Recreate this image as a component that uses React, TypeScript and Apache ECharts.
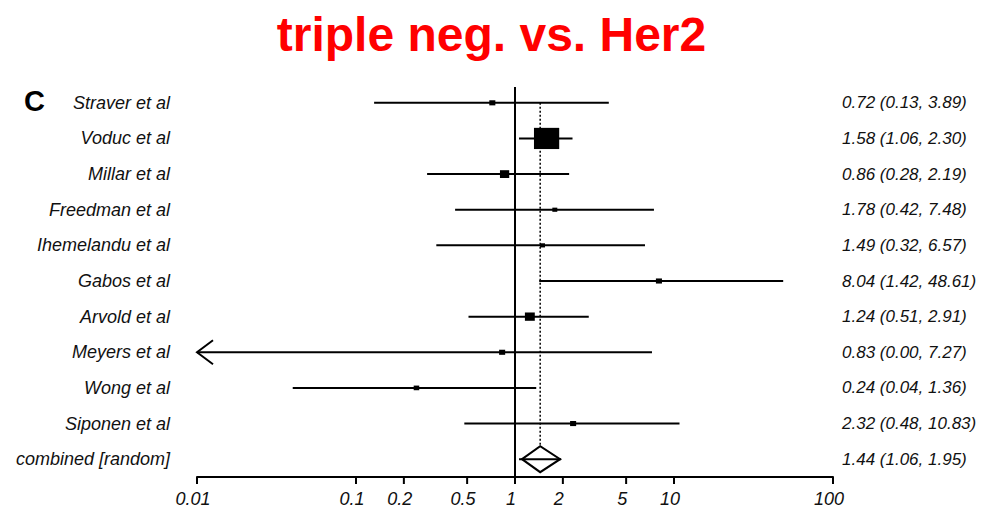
import React, { useEffect, useRef } from "react";
import * as echarts from "echarts";

const studies = [
  "Straver et al",
  "Voduc et al",
  "Millar et al",
  "Freedman et al",
  "Ihemelandu et al",
  "Gabos et al",
  "Arvold et al",
  "Meyers et al",
  "Wong et al",
  "Siponen et al",
  "combined [random]",
];
const estimates = [0.72, 1.58, 0.86, 1.78, 1.49, 8.04, 1.24, 0.83, 0.24, 2.32, 1.44];
const lowerCI = [0.13, 1.06, 0.28, 0.42, 0.32, 1.42, 0.51, 0.0, 0.04, 0.48, 1.06];
const upperCI = [3.89, 2.3, 2.19, 7.48, 6.57, 48.61, 2.91, 7.27, 1.36, 10.83, 1.95];
// estimated relative study weights (%)
const weights = [3, 52, 7, 2, 2, 3, 8, 3, 2.5, 3, 0];
const tickValues = [0.01, 0.1, 0.2, 0.5, 1, 2, 5, 10, 100];
const tickLabels = ["0.01", "0.1", "0.2", "0.5", "1", "2", "5", "10", "100"];

const X_MIN = 0.01;
const X_MAX = 100;
const FONT = '"Liberation Sans", Arial, sans-serif';

export default function App() {
  const ref = useRef<HTMLDivElement>(null);

  useEffect(() => {
    if (!ref.current) return;
    const chart = echarts.init(ref.current, null, { renderer: "svg" });
    const last = studies.length - 1;
    const ciLabels = estimates.map(
      (e, i) => `${e.toFixed(2)} (${lowerCI[i].toFixed(2)}, ${upperCI[i].toFixed(2)})`
    );
    const studyData = estimates.map((e, i) => [e, i, lowerCI[i], upperCI[i], weights[i], i === last ? 1 : 0]);

    const option: any = {
      animation: false,
      backgroundColor: "#ffffff",
      title: {
        text: "triple neg. vs. Her2",
        left: "center",
        top: 5,
        textStyle: { color: "#ff0000", fontSize: 48, fontWeight: "bold", fontFamily: FONT },
      },
      graphic: [
        {
          type: "text",
          left: 24,
          top: 86,
          style: { text: "C", font: `bold 29px ${FONT}`, fill: "#000" },
        },
      ],
      grid: { left: 197, right: 150, top: 85, bottom: 32, containLabel: false },
      xAxis: {
        type: "log",
        logBase: 10,
        min: X_MIN,
        max: X_MAX,
        axisLine: { show: true, lineStyle: { color: "#000", width: 2 } },
        axisTick: { show: false },
        axisLabel: { show: false },
        splitLine: { show: false },
        minorTick: { show: false },
      },
      yAxis: [
        {
          type: "category",
          data: studies,
          inverse: true,
          axisLine: { show: false },
          axisTick: { show: false },
          splitLine: { show: false },
          axisLabel: {
            margin: 27,
            fontStyle: "italic",
            fontSize: 18,
            fontFamily: FONT,
            color: "#111",
          },
        },
        {
          type: "category",
          data: ciLabels,
          inverse: true,
          position: "right",
          axisLine: { show: false },
          axisTick: { show: false },
          splitLine: { show: false },
          axisLabel: {
            margin: 9,
            align: "left",
            fontStyle: "italic",
            fontSize: 17,
            fontFamily: FONT,
            color: "#111",
          },
        },
      ],
      series: [
        {
          type: "custom",
          name: "reference",
          z: 1,
          xAxisIndex: 0,
          yAxisIndex: 0,
          data: [[estimates[last], last]],
          encode: { x: 0, y: 1 },
          renderItem: (params: any, api: any) => {
            const cs = params.coordSys;
            const x1 = api.coord([1, 0])[0];
            const pooled = api.value(0);
            const px = api.coord([pooled, 0])[0];
            const yTop = api.coord([pooled, 0])[1];
            const yDiamond = api.coord([pooled, last])[1] - 13;
            return {
              type: "group",
              children: [
                {
                  type: "line",
                  shape: { x1, y1: cs.y + 2, x2: x1, y2: cs.y + cs.height },
                  style: { stroke: "#000", lineWidth: 2 },
                },
                {
                  type: "line",
                  shape: { x1: px, y1: yTop, x2: px, y2: yDiamond },
                  style: { stroke: "#000", lineWidth: 1.5, lineDash: [2, 2] },
                },
              ],
            };
          },
        },
        {
          type: "custom",
          name: "studies",
          z: 3,
          xAxisIndex: 0,
          yAxisIndex: 0,
          data: studyData,
          encode: { x: 0, y: 1 },
          renderItem: (params: any, api: any) => {
            const cs = params.coordSys;
            const est = api.value(0);
            const idx = api.value(1);
            const lo = api.value(2);
            const hi = api.value(3);
            const w = api.value(4);
            const summary = api.value(5) === 1;
            const clamped = lo <= X_MIN;
            const pE = api.coord([est, idx]);
            const pL = api.coord([clamped ? X_MIN : lo, idx]);
            const pH = api.coord([hi, idx]);
            const y = pE[1];
            const children: any[] = [];
            if (summary) {
              children.push({
                type: "polygon",
                shape: {
                  points: [
                    [pL[0] + 3, y],
                    [pE[0], y - 13],
                    [pH[0] - 1, y],
                    [pE[0], y + 13],
                  ],
                },
                style: { fill: "#fff", stroke: "#000", lineWidth: 2 },
              });
              children.push({
                type: "line",
                shape: { x1: pL[0], y1: y, x2: pH[0], y2: y },
                style: { stroke: "#000", lineWidth: 2 },
              });
            } else {
              children.push({
                type: "line",
                shape: { x1: pL[0], y1: y, x2: pH[0], y2: y },
                style: { stroke: "#000", lineWidth: 2 },
              });
              const s = 3.5 * Math.sqrt(w);
              children.push({
                type: "rect",
                shape: { x: pE[0] - s / 2, y: y - s * 0.42, width: s, height: s * 0.84 },
                style: { fill: "#000" },
              });
              if (clamped) {
                children.push({
                  type: "polyline",
                  shape: {
                    points: [
                      [cs.x + 16, y - 12],
                      [cs.x, y],
                      [cs.x + 16, y + 12],
                    ],
                  },
                  style: { stroke: "#000", lineWidth: 2, fill: "none" },
                });
              }
            }
            return { type: "group", children };
          },
        },
        {
          type: "custom",
          name: "ticks",
          z: 2,
          xAxisIndex: 0,
          yAxisIndex: 0,
          data: tickValues.map((v, i) => [v, 0, i]),
          encode: { x: 0, y: 1 },
          renderItem: (params: any, api: any) => {
            const cs = params.coordSys;
            const x = api.coord([api.value(0), 0])[0];
            const y0 = cs.y + cs.height;
            return {
              type: "group",
              children: [
                {
                  type: "line",
                  shape: { x1: x, y1: y0, x2: x, y2: y0 + 7 },
                  style: { stroke: "#000", lineWidth: 2 },
                },
                {
                  type: "text",
                  style: {
                    text: tickLabels[api.value(2)],
                    x: x - 4,
                    y: y0 + 13,
                    align: "center",
                    verticalAlign: "top",
                    font: `italic 18px ${FONT}`,
                    fill: "#111",
                  },
                },
              ],
            };
          },
        },
      ],
    };
    chart.setOption(option);
    return () => chart.dispose();
  }, []);

  return (
    <div
      ref={ref}
      style={{ position: "fixed", left: 0, top: 0, width: 983, height: 509, background: "#fff" }}
    />
  );
}
